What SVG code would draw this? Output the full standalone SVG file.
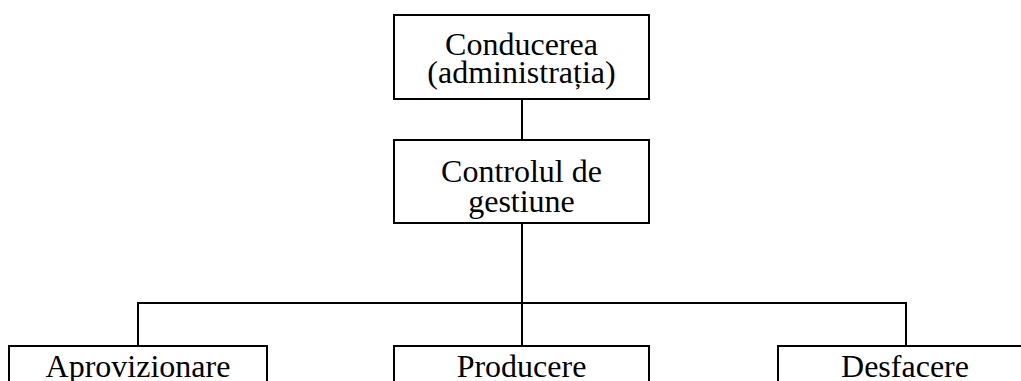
<svg xmlns="http://www.w3.org/2000/svg" width="1021" height="381" viewBox="0 0 1021 381">
<style>
.box{fill:#fff;stroke:#000;stroke-width:2}
.lbl{font-family:"Liberation Serif","Times New Roman",serif;font-size:32px;fill:#000;text-anchor:middle}
.conn{stroke:#000;stroke-width:2;fill:none}
</style>
<rect width="1021" height="381" fill="#fff"/>
<g id="connectors">
<line class="conn" x1="522" y1="99" x2="522" y2="140"/>
<line class="conn" x1="522" y1="223" x2="522" y2="346"/>
<polyline class="conn" points="138,346 138,303 906,303 906,346"/>
</g>
<g id="conducerea">
<rect class="box" x="394" y="15" width="255" height="84"/>
<text class="lbl" x="521.5" y="55">Conducerea</text>
<text class="lbl" x="521.5" y="83">(administrația)</text>
</g>
<g id="controlul">
<rect class="box" x="394" y="140" width="255" height="83"/>
<text class="lbl" x="521.5" y="182">Controlul de</text>
<text class="lbl" x="521.5" y="212">gestiune</text>
</g>
<g id="aprovizionare">
<rect class="box" x="9" y="346" width="258" height="60"/>
<text class="lbl" x="138" y="377">Aprovizionare</text>
</g>
<g id="producere">
<rect class="box" x="394" y="346" width="255" height="60"/>
<text class="lbl" x="521.5" y="377">Producere</text>
</g>
<g id="desfacere">
<rect class="box" x="778" y="346" width="255" height="60"/>
<text class="lbl" x="905" y="377">Desfacere</text>
</g>
</svg>
